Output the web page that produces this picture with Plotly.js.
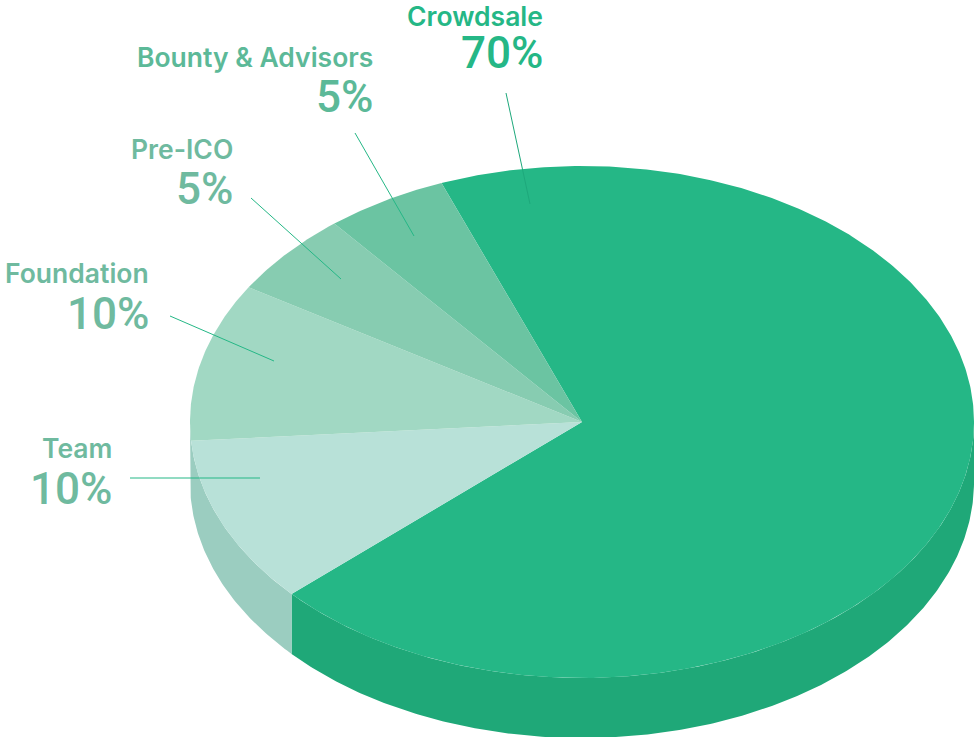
<!DOCTYPE html>
<html>
<head>
<meta charset="utf-8">
<script src="https://cdn.plot.ly/plotly-3.0.1.min.js"></script>
<style>html,body{margin:0;padding:0;background:#fff;overflow:hidden}#chart{width:974px;height:737px}</style>
</head>
<body>
<div id="chart"></div>
<script>
// Data
const categories = ['Crowdsale', 'Team', 'Foundation', 'Pre-ICO', 'Bounty & Advisors'];
const labelledPercent = [70, 10, 10, 5, 5];      // printed in the labels
const drawnShare = [69.1, 10.55, 9.98, 5.3, 5.05]; // slice size as drawn in the picture

// Styles
const faceColors = ['#25b786', '#b8e1d8', '#a1d8c3', '#87ccb1', '#6bc4a2'];
const wallColors = ['#1fa878', '#9bcdc0', null, null, null];
const textColors = ['#25b786', '#6fba9f', '#6fba9f', '#6fba9f', '#5cb998'];
const leaderColors = ['#1ea87b', '#25b786', '#25b786', '#25b786', '#25b786'];
const NAME_FONT = 'Inter, sans-serif';
const PCT_FONT = 'Roboto, sans-serif';

// Pie geometry (pixels on the 974x737 axes)
const cx = 582, cy = 422, rx = 392, ry = 256, depth = 60, startDeg = -21;
const pt = (deg, dy) => {
  const a = deg * Math.PI / 180;
  return [cx + rx * Math.sin(a), cy - ry * Math.cos(a) + (dy || 0)];
};
const arc = (from, to, dy) => {
  const n = Math.max(2, Math.ceil(Math.abs(to - from) * 2));
  const out = [];
  for (let i = 0; i <= n; i++) out.push(pt(from + (to - from) * i / n, dy));
  return out;
};
const poly = (points, color) => ({
  type: 'scatter', mode: 'lines', x: points.map(p => p[0]), y: points.map(p => p[1]),
  fill: 'toself', fillcolor: color, line: {width: 0, color: color},
  hoverinfo: 'skip', showlegend: false
});

const total = drawnShare.reduce((a, b) => a + b, 0);
let cursor = startDeg;
const spans = drawnShare.map(v => {
  const s = [cursor, cursor + v / total * 360];
  cursor = s[1];
  return s;
});

const traces = [];
// Side walls: only the front half of the rim (90..270 degrees) is visible
spans.forEach((s, i) => {
  if (!wallColors[i]) return;
  const from = Math.max(s[0], 90), to = Math.min(i === 1 ? 270 : s[1], 270);
  if (to <= from) return;
  traces.push(poly(arc(from, to, 0).concat(arc(to, from, depth)), wallColors[i]));
});
// Top faces
spans.forEach((s, i) => {
  const t = poly([[cx, cy]].concat(arc(s[0], s[1], 0)).concat([[cx, cy]]), faceColors[i]);
  t.name = categories[i];
  traces.push(t);
});

// Leader lines and label placement
const leaders = [[506, 93, 530, 204], [130, 478, 260, 478], [170, 316, 274, 361], [251, 198, 341, 279], [355, 133, 414, 236]];
const labelRight = [544, 113, 150, 234, 374];
const nameY = [16, 448, 273, 149, 57];
const pctY = [53, 489, 314, 189, 97];

const annotations = [];
categories.forEach((c, i) => {
  annotations.push({x: labelRight[i], y: nameY[i], xref: 'x', yref: 'y', text: c, showarrow: false,
    xanchor: 'right', yanchor: 'middle', borderpad: 0,
    font: {family: NAME_FONT, size: 26.5, weight: 600, color: textColors[i]}});
  annotations.push({x: labelRight[i], y: pctY[i], xref: 'x', yref: 'y', text: labelledPercent[i] + '%', showarrow: false,
    xanchor: 'right', yanchor: 'middle', borderpad: 0,
    font: {family: PCT_FONT, size: 44, weight: 500, color: textColors[i]}});
});

const layout = {
  width: 974, height: 737,
  margin: {l: 0, r: 0, t: 0, b: 0, pad: 0},
  paper_bgcolor: '#ffffff', plot_bgcolor: '#ffffff',
  xaxis: {range: [0, 974], visible: false, fixedrange: true},
  yaxis: {range: [737, 0], visible: false, fixedrange: true},
  showlegend: false,
  hovermode: false,
  annotations: annotations,
  shapes: leaders.map((l, i) => ({type: 'line', xref: 'x', yref: 'y', x0: l[0], y0: l[1], x1: l[2], y1: l[3],
    line: {color: leaderColors[i], width: 1}, layer: 'above'}))
};
Plotly.newPlot('chart', traces, layout, {displayModeBar: false, staticPlot: true});
</script>
</body>
</html>
